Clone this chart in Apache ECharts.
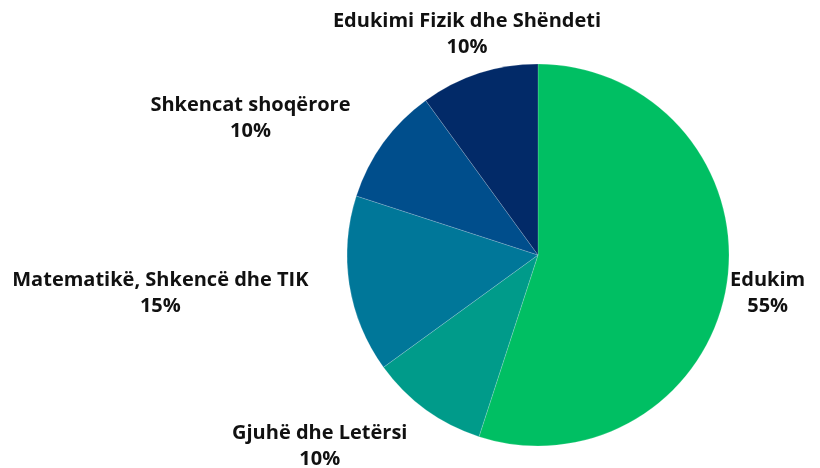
<!DOCTYPE html>
<html>
<head>
<meta charset="utf-8">
<script src="https://cdn.jsdelivr.net/npm/echarts@6/dist/echarts.min.js"></script>
<style>
  html, body { margin: 0; padding: 0; background: #fff; }
  #chart { width: 820px; height: 468px; }
</style>
</head>
<body>
<div id="chart"></div>
<script>
var categories = ["Edukim", "Gjuhë dhe Letërsi", "Matematikë, Shkencë dhe TIK", "Shkencat shoqërore", "Edukimi Fizik dhe Shëndeti"];
var values = [55, 10, 15, 10, 10];
var colors = ["#00BF63", "#009B8A", "#007799", "#004E8C", "#022A68"];
// label centre offsets from the default outside anchor (px)
var labelOffsets = [[36, 8], [-101, 37], [-184, 8], [-128, -24], [-7, -39]];

var myChart = echarts.init(document.getElementById("chart"));
var option = {
  backgroundColor: "#fff",
  animation: false,
  series: [
    {
      type: "pie",
      center: [538, 255],
      radius: 191,
      startAngle: 90,
      clockwise: true,
      data: categories.map(function (name, i) {
        return { name: name, value: values[i], itemStyle: { color: colors[i] } };
      }),
      itemStyle: { borderColor: "rgba(255,255,255,0.35)", borderWidth: 0.5 },
      label: {
        show: true,
        position: "outside",
        formatter: "{b}\n{c}%",
        fontFamily: "Open Sans",
        fontWeight: "bold",
        fontSize: 20,
        lineHeight: 26,
        color: "#111"
      },
      labelLine: { show: false, length: 0, length2: 0 },
      labelLayout: function (params) {
        var r = params.labelRect;
        var o = labelOffsets[params.dataIndex];
        var anchorX = params.align === "left" ? r.x : r.x + r.width;
        return {
          x: anchorX + o[0],
          y: r.y + r.height / 2 + o[1],
          align: "center",
          verticalAlign: "middle"
        };
      }
    }
  ]
};
myChart.setOption(option);
window.onresize = function () {
  myChart.resize();
};
</script>
</body>
</html>
